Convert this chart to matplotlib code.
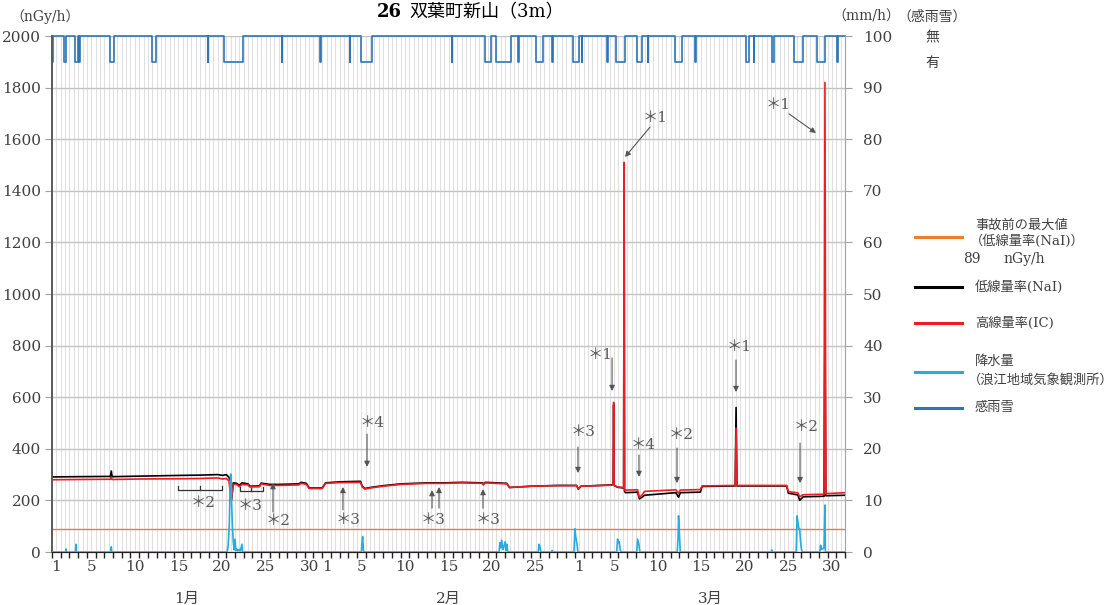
import numpy as np
import matplotlib
matplotlib.use('Agg')
import matplotlib.pyplot as plt
from matplotlib.lines import Line2D

plt.rcParams['font.family'] = ['DejaVu Serif', 'Noto Sans CJK JP']

# ---- data (x = days from Jan 1 00:00, 2024) ----
month_names = ['1月', '2月', '3月']
month_days = [31, 29, 31]
day_labels = [1, 5, 10, 15, 20, 25, 30]

pre_accident_max = 89  # nGy/h

nai_t = [0.0, 3.0, 6.7, 6.8, 6.9, 10, 15, 17, 19, 19.6, 20.0, 20.3, 20.5, 20.6, 20.8,
         21.2, 21.5, 21.8, 22.5, 22.7, 23.8, 24.0, 25.0, 26.0, 28.3, 28.6, 29.2, 29.5,
         31.0, 31.4, 33, 35.4, 35.6, 35.9, 36.5, 38, 40, 43, 45, 47, 49.4, 49.5, 49.7,
         51, 52.2, 52.5, 55, 58, 60.2, 60.4, 60.7, 64.2, 64.4, 64.45, 64.5, 64.9, 65.6,
         65.65, 65.7, 65.8, 67.2, 67.4, 67.7, 68, 71.6, 71.9, 72.1, 74.4, 74.6, 78.4,
         78.5, 78.6, 84.3, 84.5, 85.6, 85.8, 86.2, 88.6, 88.7, 88.8, 91]
nai_v = [291, 292, 293, 314, 292, 294, 297, 298, 300, 297, 300, 290, 270, 201, 268,
         266, 258, 268, 264, 255, 256, 267, 262, 262, 264, 270, 266, 248,
         248, 268, 272, 274, 255, 246, 250, 257, 264, 268, 268, 270, 268, 262, 270,
         268, 266, 250, 255, 258, 258, 244, 255, 260, 262, 570, 258, 251, 248,
         1500, 235, 230, 232, 206, 212, 220, 230, 212, 230, 232, 254, 256,
         560, 256, 256, 228, 221, 200, 214, 216, 900, 218, 220]

ic_t = nai_t
ic_v = [280, 281, 282, 290, 281, 283, 284, 285, 287, 283, 285, 276, 220, 205, 262,
        262, 253, 262, 260, 252, 253, 264, 258, 258, 260, 266, 262, 246,
        246, 266, 269, 270, 252, 244, 248, 255, 262, 266, 266, 268, 266, 260, 268,
        266, 264, 250, 255, 257, 257, 244, 255, 259, 262, 580, 258, 252, 250,
        1510, 240, 240, 241, 212, 220, 235, 241, 228, 240, 242, 256, 258,
        480, 258, 258, 234, 229, 214, 222, 224, 1820, 226, 230]

rain_t = [0, 1.55, 1.6, 1.65, 2.7, 2.75, 2.8, 6.75, 6.8, 6.85,
          20.1, 20.2, 20.3, 20.35, 20.45, 20.5, 20.55, 20.62, 20.7, 20.8, 20.9, 21.0,
          21.1, 21.2, 21.3, 21.5, 21.6, 21.8, 21.85,
          35.5, 35.6, 35.65, 35.75,
          51.3, 51.4, 51.5, 51.6, 51.75, 51.85, 52.0, 52.1, 52.2, 52.3,
          55.8, 55.9, 56.0, 56.1, 57.35, 57.4, 57.45,
          59.9, 60.0, 60.1, 60.25, 60.35,
          64.8, 64.9, 65.0, 65.1, 65.2, 65.3,
          67.1, 67.2, 67.35, 67.45,
          71.75, 71.85, 71.9, 72.0, 72.1,
          82.55, 82.6, 82.65,
          85.4, 85.5, 85.6, 85.7, 85.8, 85.9, 86.0, 86.1,
          88.1, 88.2, 88.3, 88.6, 88.7, 88.75, 91]
rain_v = [0, 0, 0.6, 0, 0, 1.5, 0, 0, 1.0, 0,
          0, 1.0, 3.6, 5.9, 13.6, 15.1, 14.7, 9.1, 5.2, 2.0, 0.4, 2.5,
          0.3, 0.6, 0.2, 0.5, 0.2, 1.5, 0,
          0, 2.5, 3.0, 0,
          0, 1.8, 0.8, 2.3, 0.5, 1.0, 2.0, 0.3, 1.5, 0,
          0, 1.5, 1.0, 0, 0, 0.3, 0,
          0, 4.5, 3.0, 1.5, 0,
          0, 2.5, 1.8, 2.0, 0.5, 0,
          0, 2.5, 1.5, 0,
          0, 3.0, 7.0, 3.5, 0,
          0, 0.4, 0,
          0, 7.0, 5.7, 4.6, 4.5, 2.0, 0.5, 0,
          0, 1.3, 0.5, 0.8, 9.1, 0, 0]

# rain/snow sensor "on" periods (start, end) in days
sense_on = [(0.0, 0.1), (1.4, 1.6), (2.65, 3.0), (3.1, 3.2), (6.7, 7.1), (11.5, 11.9),
            (17.9, 17.95), (19.7, 21.9), (26.4, 26.45), (30.8, 30.85), (34.2, 34.25),
            (35.5, 36.7), (45.9, 45.95), (49.7, 50.4), (50.9, 52.7), (53.5, 53.55),
            (55.5, 56.3), (57.4, 57.45), (59.8, 60.5), (60.8, 60.85), (63.7, 63.75),
            (64.75, 65.8), (67.1, 67.7), (68.4, 68.45), (71.5, 72.3), (73.8, 73.85),
            (79.6, 80.0), (80.5, 80.55), (82.6, 82.8), (85.1, 86.2), (87.8, 88.7),
            (90.1, 90.15)]

# ---- figure ----
fig = plt.figure(figsize=(11.2, 6.05), dpi=100)
W, H = 1120, 605
ax = fig.add_axes([52 / W, 1 - 552 / H, 793 / W, 516 / H])
ax2 = ax.twinx()

n_days = sum(month_days)
ax.set_xlim(0, n_days)
ax.set_ylim(0, 2000)
ax2.set_ylim(0, 100)

# grids
for x in np.arange(0.5, n_days, 0.5):
    ax.axvline(x, color='#e0e0e0', lw=0.8, zorder=0)
ax.set_yticks(range(0, 2001, 200))
ax.grid(axis='y', color='#c4c4c4', lw=1.0, zorder=0)
ax.set_axisbelow(True)

# x ticks: day ticks at boundaries, labels at centres
ax.set_xticks(np.arange(0, n_days + 1), minor=True)
pos, labs = [], []
start = 0
for m, nd in enumerate(month_days):
    for d in day_labels:
        if d <= nd:
            pos.append(start + d - 0.5)
            labs.append(str(d))
    ax.text(start + nd / 2, -0.09, month_names[m], transform=ax.get_xaxis_transform(),
            ha='center', va='center', fontsize=11, color='#404040')
    start += nd
ax.set_xticks(pos)
ax.set_xticklabels(labs)
ax.tick_params(axis='x', which='major', length=0, pad=6, labelsize=11, labelcolor='#404040')
ax.tick_params(axis='x', which='minor', length=4, color='#222222', width=1)
ax.tick_params(axis='y', length=5, color='#a0a0a0', labelsize=11, labelcolor='#404040', pad=3)

ax2.set_yticks(range(0, 101, 10))
ax2.tick_params(axis='y', length=5, color='#a0a0a0', labelsize=11, labelcolor='#404040', pad=8)

for a in (ax, ax2):
    a.spines['top'].set_visible(False)
    a.spines['left'].set_color('#595959')
    a.spines['right'].set_color('#a6a6a6')
    a.spines['bottom'].set_color('#222222')
    a.spines['left'].set_linewidth(1.2)

# series
ax.axhline(pre_accident_max, color='#ED7D31', lw=1.0, zorder=2)
ax.plot(nai_t, nai_v, color='black', lw=1.2, zorder=3)
ax.plot(ic_t, ic_v, color='#EE1C25', lw=1.2, zorder=4)

sx, sy = [0], [2000]
for a, b in sense_on:
    sx += [a, a, b, b]
    sy += [2000, 1900, 1900, 2000]
sx.append(n_days)
sy.append(2000)
ax.plot(sx, sy, color='#2E75B6', lw=1.2, zorder=5, clip_on=False)

ax2.plot(rain_t, rain_v, color='#29ABE2', lw=1.2, zorder=3)

# annotations: (text, text_xy, [(tail, head), ...])
notes = [
    ('＊2', (25.94, 120), [((25.36, 155), (25.36, 267))]),
    ('＊3', (33.97, 124), [((33.39, 163), (33.39, 252))]),
    ('＊4', (36.72, 500), [((36.15, 457), (36.15, 330))]),
    ('＊3', (43.72, 124), [((43.61, 170), (43.61, 240)), ((44.41, 170), (44.41, 252))]),
    ('＊3', (50.03, 124), [((49.46, 170), (49.46, 244))]),
    ('＊3', (60.94, 465), [((60.36, 407), (60.36, 306))]),
    ('＊1', (62.89, 764), [((64.27, 752), (64.27, 624))]),
    ('＊1', (69.2, 1682), [((68.63, 1647), (65.76, 1531))]),
    ('＊4', (67.82, 415), [((67.36, 376), (67.36, 291))]),
    ('＊2', (72.18, 453), [((71.72, 403), (71.72, 267))]),
    ('＊1', (78.84, 795), [((78.49, 744), (78.49, 620))]),
    ('＊2', (86.53, 484), [((85.84, 422), (85.84, 267))]),
    ('＊1', (83.32, 1733), [((84.58, 1698), (87.67, 1624))]),
]
for txt, xy, arrows in notes:
    ax.text(xy[0], xy[1], txt, ha='center', va='center', fontsize=11, color='#595959', zorder=6)
    for tail, head in arrows:
        ax.annotate('', xy=head, xytext=tail,
                    arrowprops=dict(arrowstyle='-|>', color='#555555', lw=0.8,
                                    mutation_scale=8, shrinkA=0, shrinkB=0), zorder=6)

# brackets
brackets = [('＊2', 14.46, 19.51, 240, 17.33, 190), ('＊3', 21.57, 24.21, 236, 22.72, 178)]
for txt, x0, x1, yb, tx, ty in brackets:
    ax.plot([x0, x0, x1, x1], [yb + 16, yb, yb, yb + 16], color='#333333', lw=0.9, zorder=6)
    ax.plot([(x0 + x1) / 2] * 2, [yb, yb + 14], color='#333333', lw=0.9, zorder=6)
    ax.text(tx, ty, txt, ha='center', va='center', fontsize=11, color='#595959', zorder=6)

# titles and unit labels
fig.text(402 / W, 1 - 12 / H, '26', ha='right', va='center', fontsize=13, fontweight='bold')
fig.text(409 / W, 1 - 12 / H, '双葉町新山（3m）', ha='left', va='center', fontsize=13)
fig.text(45 / W, 1 - 17 / H, '（nGy/h）', ha='center', va='center', fontsize=10, color='#404040')
fig.text(866 / W, 1 - 17 / H, '（mm/h）', ha='center', va='center', fontsize=10, color='#404040')
fig.text(932 / W, 1 - 17 / H, '（感雨雪）', ha='center', va='center', fontsize=10, color='#404040')
fig.text(932 / W, 1 - 37 / H, '無', ha='center', va='center', fontsize=10, color='#404040')
fig.text(932 / W, 1 - 63 / H, '有', ha='center', va='center', fontsize=10, color='#404040')

# legend
leg_items = [('#ED7D31', 237), ('black', 287), ('#EE1C25', 323), ('#29ABE2', 372), ('#2E75B6', 408)]
for c, y in leg_items:
    fig.add_artist(Line2D([915 / W, 962 / W], [1 - y / H] * 2, color=c, lw=2.2,
                          transform=fig.transFigure))
leg_texts = [('事故前の最大値', 975, 225), ('（低線量率(NaI)）', 970, 241),
             ('低線量率(NaI)', 975, 287), ('高線量率(IC)', 975, 323),
             ('降水量', 975, 362), ('（浪江地域気象観測所）', 968, 380), ('感雨雪', 975, 408)]
for t, x, y in leg_texts:
    fig.text(x / W, 1 - y / H, t, ha='left', va='center', fontsize=9.5, color='#404040')
fig.text(963 / W, 1 - 259 / H, str(pre_accident_max), ha='left', va='center', fontsize=10, color='#404040')
fig.text(1003 / W, 1 - 259 / H, 'nGy/h', ha='left', va='center', fontsize=10, color='#404040')

fig.savefig('out.png', dpi=100)
